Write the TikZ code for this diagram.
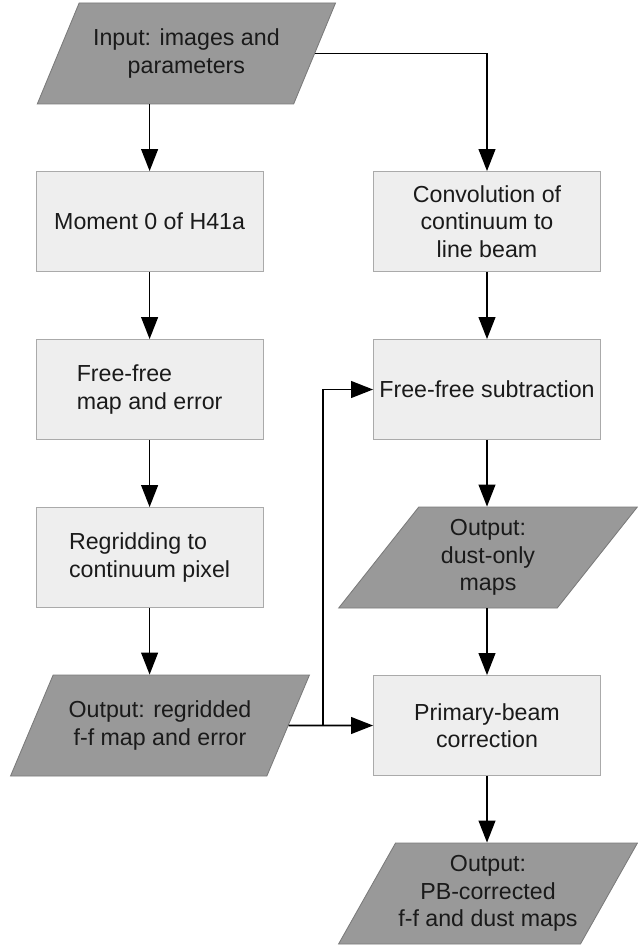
\documentclass[tikz,border=0pt]{standalone}
\usepackage{fontspec}
\setmainfont{Liberation Sans}
\usetikzlibrary{shapes.geometric,arrows.meta}
\definecolor{boxfill}{HTML}{EEEEEE}
\definecolor{boxline}{HTML}{AAAAAA}
\definecolor{iofill}{HTML}{999999}
\definecolor{ioline}{HTML}{7A7A7A}
\definecolor{txt}{HTML}{1A1A1A}
\begin{document}
\begin{tikzpicture}[line width=1.2pt,
    font=\fontsize{16.5}{19.5}\selectfont,
    process/.style={draw=boxline,fill=boxfill,line width=0.6pt,text=txt,
        minimum width=5.675cm,minimum height=2.5cm,inner sep=2pt},
    io/.style={trapezium,trapezium left angle=54.5,trapezium right angle=125.5,
        trapezium stretches=true,draw=ioline,fill=iofill,line width=0.6pt,text=txt,
        minimum width=7.475cm,minimum height=2.525cm,inner sep=1pt,align=center},
    flow/.style={-{Triangle[length=0.55cm,width=0.42cm]}}]

    \useasboundingbox (0,0) rectangle (15.925,-23.7);

    % left column
    \node [io] (in) at (4.66,-1.3375) {Input: images and\\parameters};
    \node [process,align=center] (mom) at (3.74,-5.5375) {Moment 0 of H41a};
    \node [process,align=left] (ffm) at (3.74,-9.7375) {Free-free\\map and error};
    \node [process,align=left] (rgd) at (3.74,-13.9375) {Regridding to\\continuum pixel};
    \node [io] (ffout) at (4.0,-18.1375) {Output: regridded\\f-f map and error};

    % right column
    \node [process,align=center] (conv) at (12.175,-5.5375) {Convolution of\\continuum to\\line beam};
    \node [process,align=center] (ffs) at (12.175,-9.7375) {Free-free subtraction};
    \node [io] (dust) at (12.2,-13.9375) {Output:\\dust-only\\maps};
    \node [process,align=center] (pbc) at (12.175,-18.1375) {Primary-beam\\correction};
    \node [io] (pbout) at (12.2,-22.3375) {Output:\\PB-corrected\\f-f and dust maps};

    \coordinate (br) at (8.075,-18.1375);

    \draw[flow] (mom.north |- in.south) -- (mom.north);
    \draw[flow] (mom) -- (ffm);
    \draw[flow] (ffm) -- (rgd);
    \draw[flow] (rgd.south) -- (rgd.south |- ffout.north);
    \draw[flow] (in.east) -| (conv.north);
    \draw[flow] (conv) -- (ffs);
    \draw[flow] (ffs.south) -- (ffs.south |- dust.north);
    \draw[flow] (ffs.south |- dust.south) -- (pbc.north);
    \draw[flow] (pbc.south) -- (pbc.south |- pbout.north);
    \draw[flow] (ffout.east) -- (pbc.west);
    \draw[flow] (br) |- (ffs.west);

\end{tikzpicture}
\end{document}
